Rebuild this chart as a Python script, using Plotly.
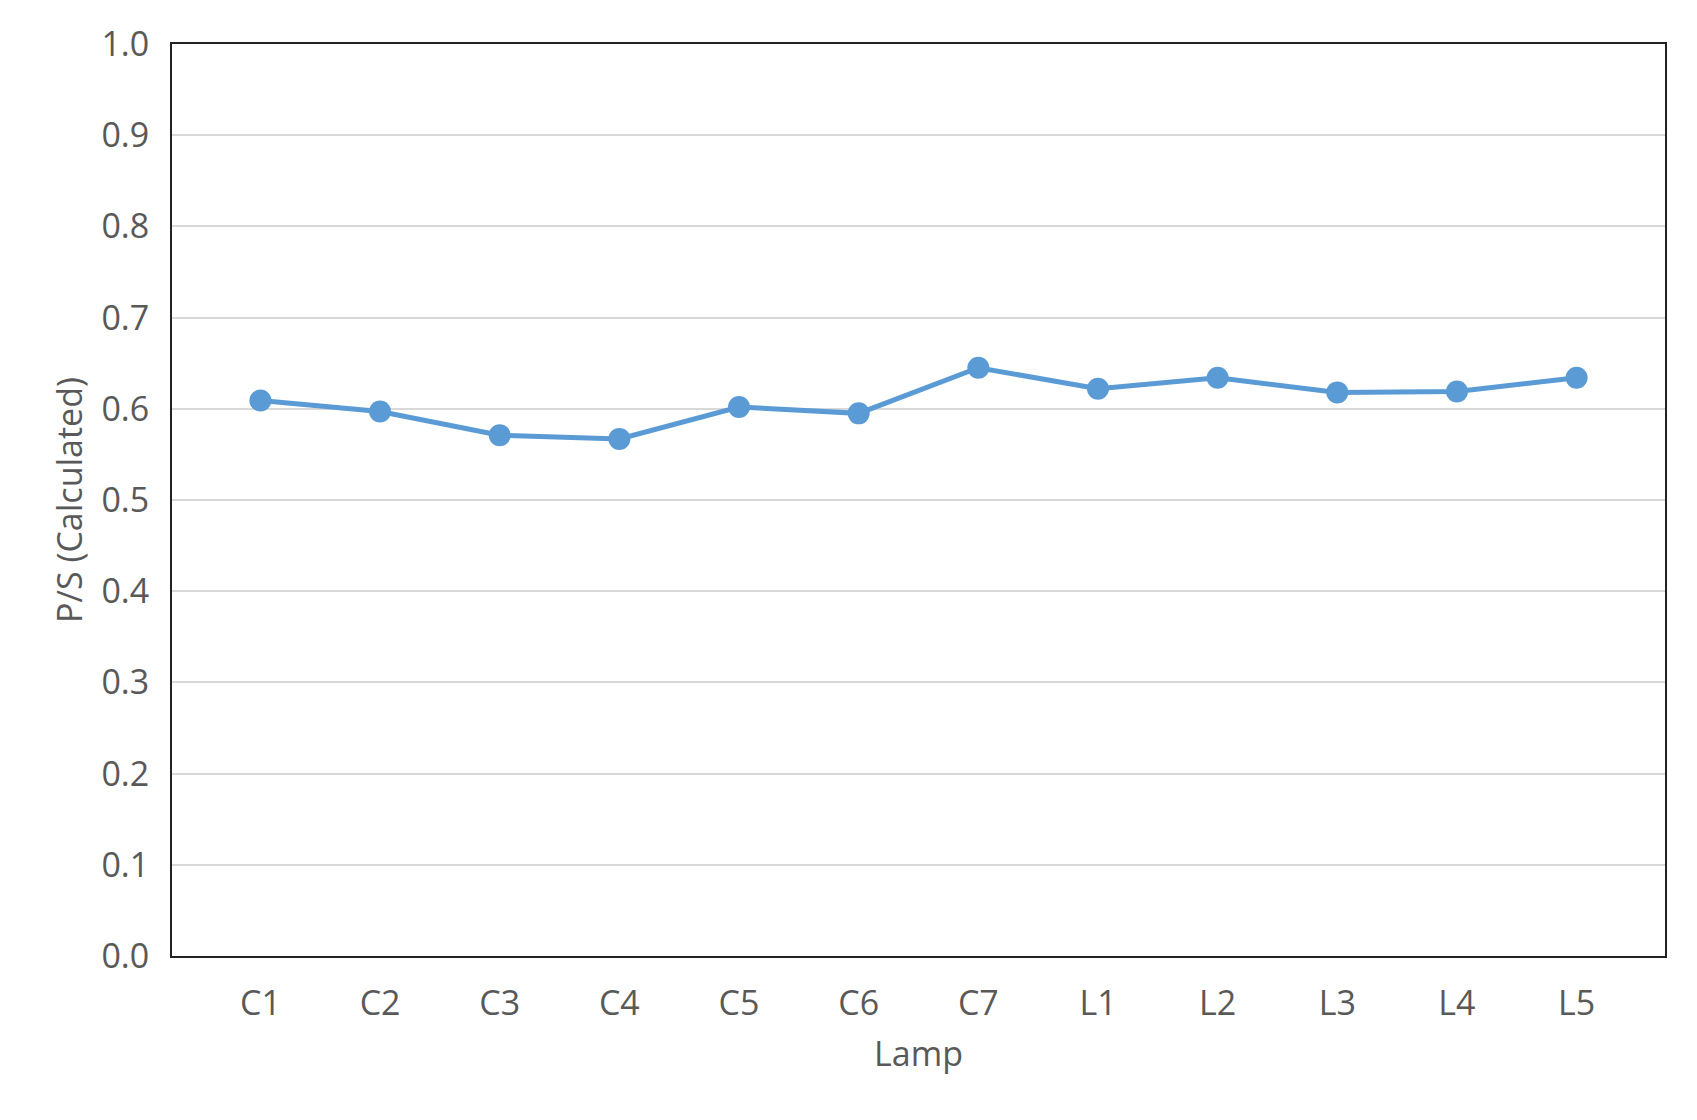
import plotly.graph_objects as go

lamps = ["C1", "C2", "C3", "C4", "C5", "C6", "C7", "L1", "L2", "L3", "L4", "L5"]
ps_calc = [0.609, 0.597, 0.571, 0.567, 0.602, 0.595, 0.645, 0.622, 0.634, 0.618, 0.619, 0.634]

fig = go.Figure()
fig.add_trace(go.Scatter(
    x=lamps, y=ps_calc, mode="lines+markers",
    line=dict(color="#5b9bd5", width=5),
    marker=dict(color="#5b9bd5", size=22),
    showlegend=False,
))

font = dict(family="Open Sans, sans-serif", size=34, color="#595959")
fig.update_layout(
    width=1697, height=1120,
    margin=dict(l=164, r=40, t=33, b=172),
    plot_bgcolor="white", paper_bgcolor="white",
    font=font,
)
fig.update_xaxes(
    title_text="Lamp", title_font=font, title_standoff=18,
    showline=True, linecolor="#222", linewidth=2, mirror=True,
    showgrid=False, ticks="", ticklabelstandoff=16,
)
fig.update_yaxes(
    title_text="P/S (Calculated)", title_font=font, title_standoff=8,
    range=[0, 1], dtick=0.1, tickformat=".1f",
    showline=True, linecolor="#222", linewidth=2, mirror=True,
    gridcolor="#d9d9d9", gridwidth=1.5, zeroline=False, ticks="",
    ticklabelstandoff=14,
)
fig.write_html("out.html")
